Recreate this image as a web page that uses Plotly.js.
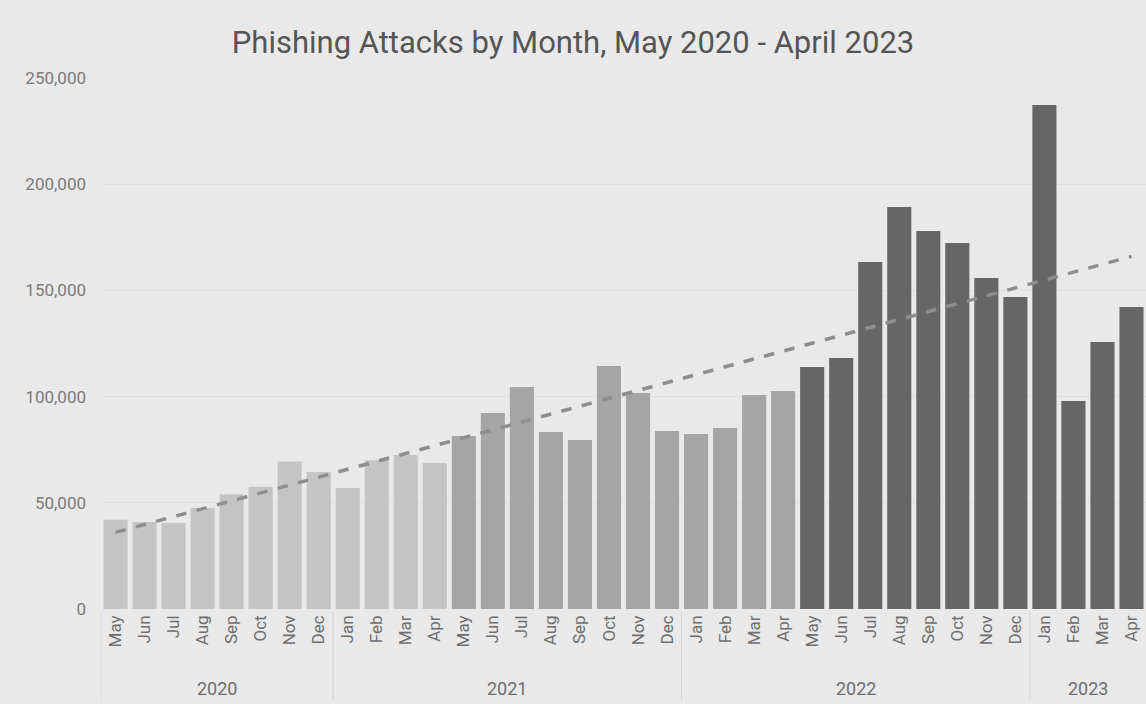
<!DOCTYPE html>
<html>
<head>
<meta charset="utf-8">
<script src="https://cdn.plot.ly/plotly-3.0.1.min.js"></script>
<style>html,body{margin:0;padding:0;background:#e9e9e9;}#chart{width:1146px;height:704px;}</style>
</head>
<body>
<div id="chart"></div>
<script>
const years = ["2020","2020","2020","2020","2020","2020","2020","2020",
  "2021","2021","2021","2021","2021","2021","2021","2021","2021","2021","2021","2021",
  "2022","2022","2022","2022","2022","2022","2022","2022","2022","2022","2022","2022",
  "2023","2023","2023","2023"];
const months = ["May","Jun","Jul","Aug","Sep","Oct","Nov","Dec",
  "Jan","Feb","Mar","Apr","May","Jun","Jul","Aug","Sep","Oct","Nov","Dec",
  "Jan","Feb","Mar","Apr","May","Jun","Jul","Aug","Sep","Oct","Nov","Dec",
  "Jan","Feb","Mar","Apr"];
const attacks = [42000,41000,40500,47500,54000,57500,69500,64500,
  57000,70000,72500,68700,81500,92300,104500,83300,79600,114400,101700,83800,
  82400,85200,100700,102600,113900,118200,163400,189300,178000,172300,155800,146900,
  237300,97900,125700,142200];
// reporting period (May–Apr) per bar: 0 = 2020/21, 1 = 2021/22, 2 = 2022/23
const period = [0,0,0,0,0,0,0,0,0,0,0,0,1,1,1,1,1,1,1,1,1,1,1,1,2,2,2,2,2,2,2,2,2,2,2,2];
const periodColors = ["#c4c4c4","#a5a5a5","#666666"];

// unique category keys (month + year); the axis shows only the month name
const cats = months.map((m, i) => m + " " + years[i]);

// linear trendline (least squares) over the monthly values
const n = attacks.length;
const idx = attacks.map((_, i) => i);
const mx = idx.reduce((a,b)=>a+b,0)/n;
const my = attacks.reduce((a,b)=>a+b,0)/n;
let sxy = 0, sxx = 0;
idx.forEach(i => { sxy += (i-mx)*(attacks[i]-my); sxx += (i-mx)*(i-mx); });
const slope = sxy/sxx, icpt = my - slope*mx;
const trend = idx.map(i => icpt + slope*i);

// year groups: first/last category index for each year
const groups = [];
years.forEach((y, i) => {
  const g = groups[groups.length-1];
  if (g && g.year === y) g.last = i; else groups.push({year:y, first:i, last:i});
});

const font = "Roboto, 'Noto Sans', sans-serif";
const dividerColor = "#d6d6d6";
const annotations = groups.map(g => ({
  x:(g.first + g.last)/2, xref:"x", y:-0.149, yref:"paper",
  text:g.year, showarrow:false, xanchor:"center", yanchor:"middle",
  font:{family:font, size:18, color:"#6e6e6e"}
}));
const shapes = groups.map(g => ({
  type:"line", xref:"x", yref:"paper", x0:g.first-0.5, x1:g.first-0.5, y0:-0.006, y1:-0.172,
  line:{color:dividerColor, width:1}
}));

const data = [
  {type:"bar", x:cats, y:attacks,
   marker:{color: period.map(p => periodColors[p]), line:{width:0}},
   hoverinfo:"y", showlegend:false},
  {type:"scatter", mode:"lines", x:cats, y:trend,
   line:{color:"#8e8e8e", width:3.5, dash:"dash"}, hoverinfo:"skip", showlegend:false}
];
const layout = {
  width:1146, height:704,
  paper_bgcolor:"#e9e9e9", plot_bgcolor:"#e9e9e9",
  margin:{l:101, r:0, t:78, b:95},
  bargap:0.17,
  title:{text:"Phishing Attacks by Month, May 2020 - April 2023", x:0.5, xanchor:"center", y:0.94, yanchor:"middle",
    font:{family:font, size:31, color:"#555555"}},
  xaxis:{type:"category", range:[-0.5, n-0.5], tickvals:cats, ticktext:months,
    tickangle:-90, showgrid:false, zeroline:false, showline:false, ticks:"",
    tickfont:{family:font, size:17, color:"#6e6e6e"}, ticklabelstandoff:2},
  yaxis:{range:[0,250000], tickvals:[0,50000,100000,150000,200000,250000], tickformat:",d",
    gridcolor:"#e0e0e0", gridwidth:1, zeroline:false,
    tickfont:{family:font, size:17, color:"#7a7a7a"}, ticklabelstandoff:14},
  annotations:annotations,
  shapes:shapes,
  font:{family:font}
};
Plotly.newPlot("chart", data, layout, {displayModeBar:false, staticPlot:true});
</script>
</body>
</html>
